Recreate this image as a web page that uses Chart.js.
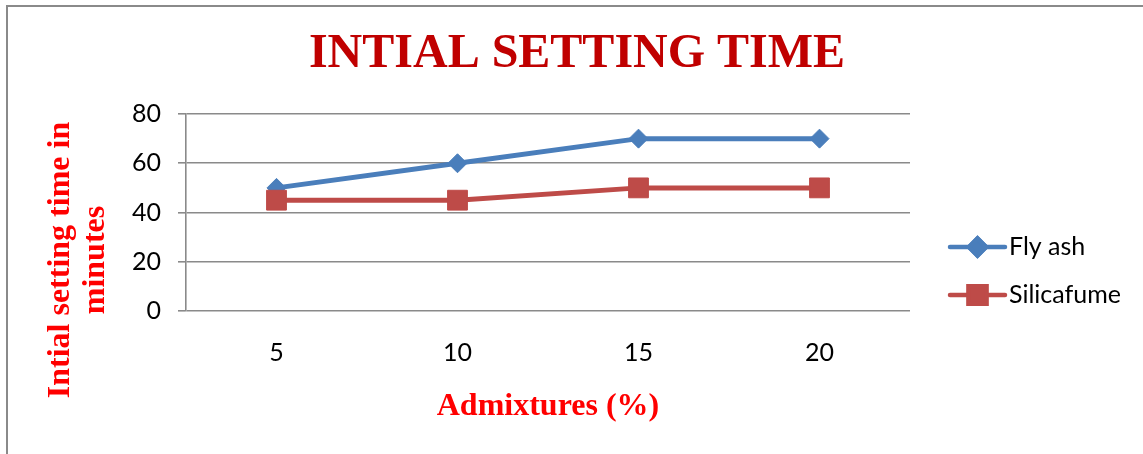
<!DOCTYPE html>
<html>
<head>
<meta charset="utf-8">
<script src="https://cdn.jsdelivr.net/npm/chart.js@4"></script>
<style>
    html, body { margin: 0; padding: 0; background: #ffffff; overflow: hidden; }
    #wrap { position: relative; width: 1143px; height: 454px; }
    #frame {
        position: absolute; left: 6px; top: 5px; width: 1300px; height: 600px;
        border: 2px solid #8a8a8a; pointer-events: none;
    }
</style>
</head>
<body>
<div id="wrap">
    <canvas id="chart" width="1143" height="454"></canvas>
    <div id="frame"></div>
</div>
<script>
// Data
const admixtures = ["5", "10", "15", "20"];
const flyAsh = [50, 60, 70, 70];
const silicafume = [45, 45, 50, 50];
const yTicks = [0, 20, 40, 60, 80];

const chartTitle = "INTIAL SETTING TIME";
const xTitle = "Admixtures (%)";
const yTitleLines = ["Intial setting time in", "minutes"];

const BLUE = "#4a7ebb";
const RED = "#be4b48";
const GRID = "#8a8a8a";
const LABEL_FONT = "Lato, 'Liberation Sans', sans-serif";
const SERIF = "'Liberation Serif', 'DejaVu Serif', serif";

// y title drawn by hand so it can sit lower than the plot centre, like the original
const yTitlePlugin = {
    id: "yTitle",
    afterDraw(chart) {
        const { ctx } = chart;
        ctx.save();
        ctx.translate(61, 260);
        ctx.rotate(-Math.PI / 2);
        ctx.fillStyle = "#ff0000";
        ctx.font = "bold 32px " + SERIF;
        ctx.textAlign = "center";
        ctx.textBaseline = "middle";
        yTitleLines.forEach((line, i) => ctx.fillText(line, 0, i * 35));
        ctx.restore();
    }
};

// legend with line + marker, like the spreadsheet legend
const lineLegendPlugin = {
    id: "lineLegend",
    afterDraw(chart) {
        const { ctx, chartArea } = chart;
        const x0 = chartArea.right + 40;
        const lineLen = 55;
        chart.data.datasets.forEach((ds, i) => {
            const y = chartArea.top + 133 + i * 48;
            ctx.save();
            ctx.strokeStyle = ds.borderColor;
            ctx.lineWidth = 4.5;
            ctx.lineCap = "round";
            ctx.beginPath();
            ctx.moveTo(x0, y);
            ctx.lineTo(x0 + lineLen, y);
            ctx.stroke();
            Chart.helpers.drawPoint(ctx, {
                pointStyle: ds.pointStyle,
                radius: ds.pointStyle === "rect" ? 12.5 : 8.5,
                borderWidth: 1
            }, x0 + lineLen / 2, y);
            ctx.fillStyle = ds.pointBackgroundColor;
            ctx.strokeStyle = ds.pointBorderColor;
            ctx.fill();
            ctx.stroke();
            ctx.fillStyle = "#000000";
            ctx.font = "25px " + LABEL_FONT;
            ctx.textAlign = "left";
            ctx.textBaseline = "middle";
            ctx.fillText(ds.label, x0 + lineLen + 4, y);
            ctx.restore();
        });
    }
};

const ctx = document.getElementById("chart").getContext("2d");
new Chart(ctx, {
    type: "line",
    data: {
        labels: admixtures,
        datasets: [
            {
                label: "Fly ash",
                data: flyAsh,
                borderColor: BLUE,
                borderWidth: 5,
                pointStyle: "rectRot",
                pointRadius: 9.5,
                pointBackgroundColor: BLUE,
                pointBorderColor: BLUE,
                pointBorderWidth: 1,
                tension: 0,
                order: 1
            },
            {
                label: "Silicafume",
                data: silicafume,
                borderColor: RED,
                borderWidth: 5,
                pointStyle: "rect",
                pointRadius: 14,
                pointBackgroundColor: RED,
                pointBorderColor: RED,
                pointBorderWidth: 1,
                tension: 0,
                order: 0
            }
        ]
    },
    options: {
        responsive: false,
        animation: false,
        layout: { padding: { left: 11, top: 0, right: 0, bottom: 0 } },
        plugins: {
            legend: { display: false },
            tooltip: { enabled: false },
            title: {
                display: true,
                text: chartTitle,
                color: "#c00000",
                font: { family: SERIF, size: 48, weight: "bold", lineHeight: 1.2 },
                padding: { top: 26, bottom: 30.4 }
            }
        },
        scales: {
            x: {
                offset: true,
                grid: { display: false, drawTicks: false },
                border: { display: false },
                ticks: {
                    color: "#000000",
                    padding: 27,
                    font: { family: LABEL_FONT, size: 25 }
                },
                title: {
                    display: true,
                    text: xTitle,
                    color: "#ff0000",
                    font: { family: SERIF, size: 32, weight: "bold", lineHeight: 1.2 },
                    padding: { top: 0, bottom: 28 }
                },
                afterFit(scale) { scale.height = 143; }
            },
            y: {
                min: 0,
                max: 80,
                afterBuildTicks(scale) { scale.ticks = yTicks.map((v) => ({ value: v })); },
                grid: { color: GRID, lineWidth: 1.6, tickLength: 8 },
                border: { display: true, color: GRID, width: 1.6 },
                ticks: {
                    color: "#000000",
                    padding: 17,
                    font: { family: LABEL_FONT, size: 25 }
                },
                afterFit(scale) { scale.width = 175; }
            },
            // empty axis that only reserves room for the legend on the right
            spacer: {
                type: "linear",
                position: "right",
                display: true,
                grid: { display: false, drawTicks: false },
                border: { display: false },
                ticks: { display: false },
                afterFit(scale) { scale.width = 233; }
            }
        }
    },
    plugins: [yTitlePlugin, lineLegendPlugin]
});
</script>
</body>
</html>
